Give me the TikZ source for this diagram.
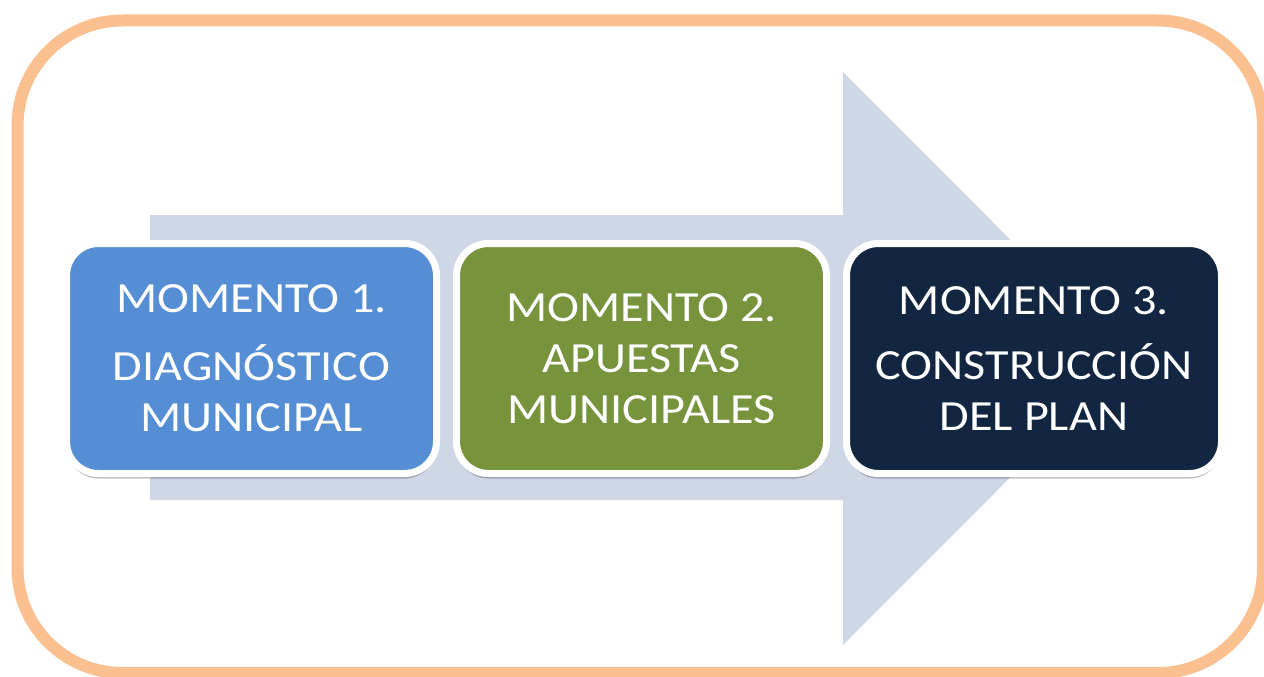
\documentclass[tikz,border=0pt]{standalone}
\usepackage{fontspec}
\newfontfamily\boxfont[FakeStretch=1.12]{Carlito}
\usetikzlibrary{shadows}
\definecolor{frameorange}{HTML}{FAC090}
\definecolor{arrowgrey}{HTML}{CFD6E6}
\definecolor{boxblue}{HTML}{558ED5}
\definecolor{boxgreen}{HTML}{77933C}
\definecolor{boxnavy}{HTML}{122641}
\tikzset{
  momentbox/.style={draw=white, line width=7pt, rounded corners=32pt,
    minimum height=230pt, text=white, align=center,
    font=\boxfont\fontsize{43}{51}\selectfont, inner sep=0pt,
    drop shadow={shadow xshift=0pt, shadow yshift=-5pt, opacity=0.25, fill=black}},
}
\begin{document}
\begin{tikzpicture}[x=1pt, y=-1pt]
\useasboundingbox (0,0) rectangle (1264,677);
\clip (0,0) rectangle (1264,677);
\fill[white] (0,0) rectangle (1264,677);
% outer frame
\draw[frameorange, line width=12pt, rounded corners=105pt] (17.5,20.5) rectangle (1263,673);
% big arrow
\fill[arrowgrey] (150,215) -- (843,215) -- (843,72) -- (1129,358.5) -- (843,645) -- (843,500) -- (150,500) -- cycle;
% boxes
\node[momentbox, fill=boxblue, minimum width=370pt] (m1) at (251.5,358.5)
  {MOMENTO 1.\\[17pt] DIAGNÓSTICO\\ MUNICIPAL};
\node[momentbox, fill=boxgreen, minimum width=370pt] (m2) at (641.5,358.5)
  {MOMENTO 2.\\ APUESTAS\\ MUNICIPALES};
\node[momentbox, fill=boxnavy, minimum width=375pt] (m3) at (1034,358.5)
  {MOMENTO 3.\\[14pt] CONSTRUCCIÓN\\ DEL PLAN};
\end{tikzpicture}
\end{document}
